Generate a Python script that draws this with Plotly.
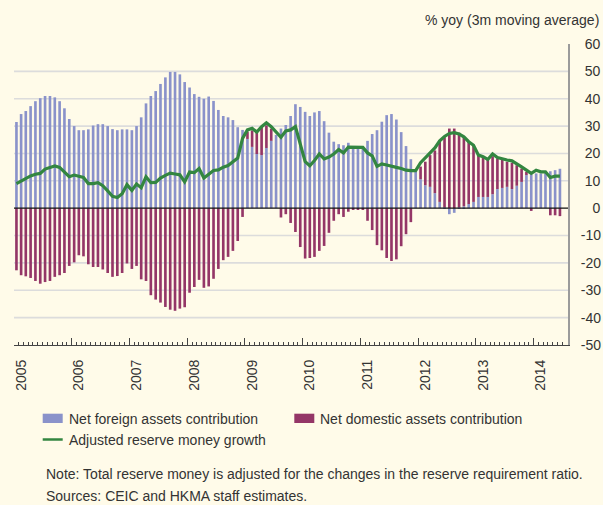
import numpy as np
import pandas as pd
import plotly.graph_objects as go

# ---------------- data (monthly, Jan 2005 - Jun 2014) ----------------
start_month = "2005-01-01"

net_foreign = [
    31.5, 34.4, 35.5, 37.3, 39.1, 40.2, 41.0, 41.0, 40.5, 39.1, 36.5, 32.6,   # 2005
    30.0, 28.5, 28.5, 28.8, 30.2, 30.7, 30.7, 30.0, 28.9, 28.5, 28.8, 28.8,   # 2006
    28.5, 30.0, 33.2, 38.3, 41.0, 42.8, 45.4, 47.8, 49.8, 49.8, 48.9, 46.1,   # 2007
    44.1, 41.7, 40.7, 40.0, 40.8, 39.2, 35.9, 33.7, 33.2, 32.2, 29.6, 28.6,   # 2008
    25.3, 22.4, 19.8, 19.4, 22.0, 24.6, 26.8, 29.1, 30.4, 33.7, 38.0, 37.0,   # 2009
    35.2, 33.7, 35.0, 35.5, 31.8, 27.6, 24.3, 23.4, 23.0, 23.9, 22.4, 22.4,   # 2010
    22.4, 24.6, 27.1, 28.5, 31.6, 34.0, 34.4, 32.4, 27.8, 22.7, 17.9, 13.3,   # 2011
    10.6, 8.4, 7.8, 5.5, 2.3, 0.3, -2.2, -1.7, 0.3, 0.7, 1.5, 2.3,           # 2012
    4.1, 4.1, 4.1, 5.1, 7.0, 7.4, 7.8, 7.0, 8.2, 9.6, 12.1, 12.4,            # 2013
    12.7, 12.7, 12.9, 13.5, 13.9, 14.4,                                       # 2014
]

net_domestic = [
    -22.7, -24.5, -24.9, -25.5, -26.6, -27.6, -27.0, -26.6, -25.1, -24.5, -23.7, -21.1,
    -19.8, -17.2, -17.6, -20.5, -21.5, -21.5, -22.4, -23.7, -25.1, -24.8, -23.7, -20.2,
    -22.2, -21.1, -26.0, -26.6, -31.8, -33.4, -34.5, -36.1, -37.1, -37.5, -36.7, -36.2,
    -30.9, -28.8, -26.2, -29.1, -28.6, -25.8, -22.2, -19.0, -17.8, -15.6, -12.0, -3.2,
    2.7, 6.0, 8.7, 10.4, 8.3, 4.5, 0.0, -3.4, -2.2, -5.4, -8.7, -14.2,
    -18.4, -18.2, -17.8, -15.6, -13.8, -9.0, -4.6, -2.2, -3.2, -1.3, -0.6, -0.6,
    -0.6, -4.6, -8.0, -13.5, -15.4, -18.2, -19.3, -18.7, -13.9, -9.5, -5.1, 0.0,
    4.6, 8.6, 11.6, 15.6, 22.0, 25.6, 29.1, 29.1, 27.3, 25.4, 22.8, 20.7,
    15.3, 14.7, 13.8, 13.9, 11.2, 10.2, 9.2, 9.6, 7.5, 4.9, 1.2, -1.0,
    0.0, 0.0, 0.0, -2.6, -2.6, -2.9,
]

reserve_growth = [
    9.0, 10.0, 10.9, 11.8, 12.4, 12.7, 14.3, 14.8, 15.4, 14.9, 13.3, 11.5,
    12.1, 11.7, 11.2, 9.0, 9.0, 9.3, 8.2, 6.3, 4.3, 3.9, 5.3, 8.6,
    6.5, 8.8, 7.5, 11.5, 9.3, 9.4, 11.0, 12.0, 12.8, 12.5, 12.2, 9.6,
    13.2, 13.0, 14.5, 11.0, 12.5, 13.8, 14.0, 15.0, 15.6, 17.0, 18.3, 25.5,
    28.6, 29.2, 27.8, 29.8, 31.2, 29.8, 27.7, 25.9, 28.2, 28.6, 29.8, 23.5,
    17.0, 15.5, 17.4, 19.8, 18.0, 18.7, 19.8, 21.4, 20.2, 22.3, 22.2, 22.2,
    22.2, 20.2, 19.1, 15.3, 16.2, 15.8, 15.2, 14.9, 14.5, 13.9, 13.7, 13.7,
    16.6, 18.3, 20.4, 22.0, 24.6, 26.2, 27.3, 27.6, 27.1, 26.1, 24.3, 23.0,
    19.4, 18.8, 17.8, 19.8, 18.5, 18.0, 17.6, 17.3, 16.3, 15.1, 13.9, 12.7,
    13.9, 13.3, 13.3, 11.2, 11.7, 11.7,
]

year_labels = [str(y) for y in range(2005, 2015)]
y_tick_values = list(range(-50, 61, 10))
grid_values = [v for v in range(-40, 51, 10) if v != 0]


def right_aligned(v):
    # pad non-negative labels with figure/punctuation spaces so that the
    # left-anchored right-side labels line up on their right edge
    s = str(v)
    if v >= 0:
        return "\u2007" * (2 - len(s)) + "\u2008" + s
    return s


y_tick_labels = [right_aligned(v) for v in y_tick_values]

series_names = ["Net foreign assets contribution",
                "Net domestic assets contribution",
                "Adjusted reserve money growth"]
title_text = "% yoy (3m moving average)"
note_text = "Note: Total reserve money is adjusted for the changes in the reserve requirement ratio."
source_text = "Sources: CEIC and HKMA staff estimates."

months = pd.date_range(start_month, periods=len(net_foreign), freq="MS")

# ---------------- style ----------------
BG = "#FFFBE9"
BLUE = "#8A92CA"
RED = "#943667"
GREEN = "#338640"
GRID = "#DCDCDC"
TXT = "#333333"
FONT = "Liberation Sans, Arial, Helvetica, sans-serif"

W, H = 603, 505
L, R, T, B = 14, 568, 44, 345


def px_x(x):
    return (x - L) / (R - L)


def px_y(y):
    return (B - y) / (B - T)


bar_w = 0.55 * 30.44 * 86400000  # ms

fig = go.Figure()
fig.add_trace(go.Bar(x=months, y=net_foreign, name=series_names[0],
                     marker=dict(color=BLUE, line=dict(width=0)),
                     width=bar_w, xperiod="M1", xperiodalignment="middle"))
fig.add_trace(go.Bar(x=months, y=net_domestic, name=series_names[1],
                     marker=dict(color=RED, line=dict(width=0)),
                     width=bar_w, xperiod="M1", xperiodalignment="middle"))
fig.add_trace(go.Scatter(x=months, y=reserve_growth, name=series_names[2],
                         mode="lines", line=dict(color=GREEN, width=3.2),
                         xperiod="M1", xperiodalignment="middle"))

shapes = []
for g in grid_values:
    shapes.append(dict(type="line", xref="paper", yref="y", x0=0, x1=1, y0=g, y1=g,
                       line=dict(color=GRID, width=1.6), layer="below"))
shapes.append(dict(type="line", xref="paper", yref="y", x0=0, x1=1, y0=0, y1=0,
                   line=dict(color="#111111", width=1.2), layer="above"))

# legend (drawn manually to match swatch shapes)
shapes.append(dict(type="rect", xref="paper", yref="paper",
                   x0=px_x(42.7), x1=px_x(62.7), y0=px_y(413.7), y1=px_y(423),
                   fillcolor=BLUE, line=dict(width=0)))
shapes.append(dict(type="rect", xref="paper", yref="paper",
                   x0=px_x(294.3), x1=px_x(314.3), y0=px_y(413.7), y1=px_y(423),
                   fillcolor=RED, line=dict(width=0)))
shapes.append(dict(type="line", xref="paper", yref="paper",
                   x0=px_x(42.7), x1=px_x(62.7), y0=px_y(439.5), y1=px_y(439.5),
                   line=dict(color=GREEN, width=2.5)))

ann = []


def text_at(txt, x, y, anchor="left"):
    ann.append(dict(text=txt, xref="paper", yref="paper", x=px_x(x), y=px_y(y),
                    xanchor=anchor, yanchor="middle", showarrow=False, borderpad=0,
                    font=dict(size=14, color=TXT, family=FONT)))


text_at(series_names[0], 67.5, 418.5)
text_at(series_names[1], 318.5, 418.5)
text_at(series_names[2], 67.5, 440)
text_at(note_text, 44.5, 474)
text_at(source_text, 44.5, 496.3)
text_at(title_text, 599.5, 20.5, anchor="right")

fig.update_layout(
    width=W, height=H,
    margin=dict(l=L, r=W - R, t=T, b=H - B, pad=0),
    paper_bgcolor=BG, plot_bgcolor=BG,
    barmode="relative",
    showlegend=False,
    font=dict(family=FONT, size=14, color=TXT),
    shapes=shapes,
    annotations=ann,
)

fig.update_xaxes(
    type="date",
    range=["2005-01-01", "2014-08-06"],
    tickmode="linear", tick0="2005-01-01", dtick="M12",
    tickformat="%Y", tickangle=-90,
    ticks="inside", ticklen=7, tickwidth=1, tickcolor="#444444",
    minor=dict(ticks="inside", ticklen=3.5, dtick="M1", tick0="2005-01-01",
               tickcolor="#444444", tickwidth=1, showgrid=False),
    showline=True, linecolor="#444444", linewidth=1,
    showgrid=False, zeroline=False,
    ticklabelshift=7, ticklabelstandoff=8,
    tickfont=dict(size=14, color=TXT, family=FONT),
    automargin=False,
)

fig.update_yaxes(
    range=[-50, 60], side="right",
    tickmode="array", tickvals=y_tick_values, ticktext=y_tick_labels,
    ticks="", showgrid=False, zeroline=False,
    showline=True, linecolor="#9B9B9B", linewidth=2,
    ticklabelstandoff=8,
    tickfont=dict(size=14, color=TXT, family=FONT),
    automargin=False,
)

fig.write_html(
    "out.html",
    config={"displayModeBar": False},
    post_script=(
        "document.documentElement.style.margin='0';"
        "document.body.style.margin='0';"
        "document.body.style.padding='0';"
        "document.body.style.overflow='hidden';"
        "document.body.style.background='" + BG + "';"
    ),
)
